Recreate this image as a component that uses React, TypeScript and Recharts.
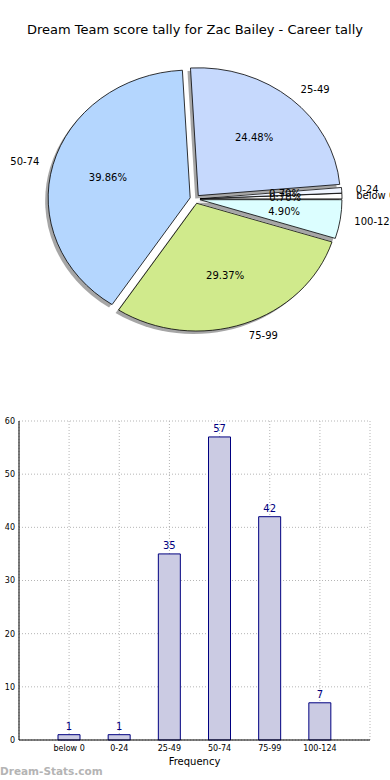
import { PieChart, Pie, Sector, BarChart, Bar, XAxis, YAxis, CartesianGrid, LabelList } from "recharts";

const CATEGORIES = ["below 0", "0-24", "25-49", "50-74", "75-99", "100-124"];
const COUNTS = [1, 1, 35, 57, 42, 7];
const SLICE_COLORS = ["#ffffff", "#eef4ff", "#c6d9fd", "#b4d6fe", "#d0ea8c", "#dcfeff"];
const Y_TICKS = [0, 10, 20, 30, 40, 50, 60];

const pieData = CATEGORIES.map((name, i) => ({ name, value: COUNTS[i] }));
const barData = CATEGORIES.map((name, i) => ({ name, value: COUNTS[i] }));

// matplotlib pie is drawn squashed (axis not equal), so y gets scaled
const SQUASH = 0.9;
const EXPLODE = 5;
const RAD = Math.PI / 180;
const FONT = "'DejaVu Sans', sans-serif";

function slicePos(props: any) {
  const { cx, cy, midAngle } = props;
  const ux = Math.cos(-midAngle * RAD);
  const uy = Math.sin(-midAngle * RAD);
  return { ux, uy, ox: cx + EXPLODE * ux, oy: cy + EXPLODE * uy };
}

function squashTf(cy: number) {
  return `translate(0 ${cy}) scale(1 ${SQUASH}) translate(0 ${-cy})`;
}

function SliceShadow(props: any) {
  const { cy, outerRadius, startAngle, endAngle } = props;
  const { ox, oy } = slicePos(props);
  return (
    <g transform={squashTf(cy)}>
      <Sector
        cx={ox - 3}
        cy={oy + 3 / SQUASH}
        innerRadius={0}
        outerRadius={outerRadius}
        startAngle={startAngle}
        endAngle={endAngle}
        fill="#808080"
        fillOpacity={0.7}
        stroke="none"
      />
    </g>
  );
}

function SliceBody(props: any) {
  const { cy, outerRadius, startAngle, endAngle, index } = props;
  const { ox, oy } = slicePos(props);
  return (
    <g transform={squashTf(cy)}>
      <Sector
        cx={ox}
        cy={oy}
        innerRadius={0}
        outerRadius={outerRadius}
        startAngle={startAngle}
        endAngle={endAngle}
        fill={SLICE_COLORS[index]}
        stroke="#000"
        strokeWidth={0.8}
        vectorEffect="non-scaling-stroke"
      />
    </g>
  );
}

function SliceText(props: any) {
  const { cy, outerRadius, percent, name } = props;
  const { ux, uy, ox, oy } = slicePos(props);
  const toY = (y: number) => cy + (y - cy) * SQUASH;
  const px = ox + 0.6 * outerRadius * ux;
  const py = toY(oy + 0.6 * outerRadius * uy);
  const lx = ox + 1.1 * outerRadius * ux;
  const ly = toY(oy + 1.1 * outerRadius * uy);
  return (
    <g fontFamily={FONT} fontSize={10} fill="#000">
      <text x={px} y={py} textAnchor="middle" dominantBaseline="central">
        {(percent * 100).toFixed(2)}%
      </text>
      <text x={lx} y={ly} textAnchor={ux > 0 ? "start" : "end"} dominantBaseline="central">
        {name}
      </text>
    </g>
  );
}

const pieCommon = {
  data: pieData,
  dataKey: "value",
  nameKey: "name",
  cx: 195,
  cy: 199,
  outerRadius: 142,
  startAngle: 0,
  endAngle: 360,
  fill: "none",
  stroke: "none",
  labelLine: false,
  isAnimationActive: false,
};

export default function App() {
  return (
    <div
      style={{
        position: "absolute",
        left: 0,
        top: 0,
        width: 390,
        height: 780,
        overflow: "hidden",
        background: "#fff",
        fontFamily: FONT,
      }}
    >
      <div
        style={{
          position: "absolute",
          top: 22,
          left: 0,
          width: 390,
          textAlign: "center",
          fontSize: 13,
          lineHeight: "16px",
          color: "#000",
        }}
      >
        Dream Team score tally for Zac Bailey - Career tally
      </div>

      <div style={{ position: "absolute", top: 0, left: 0 }}>
        <PieChart width={390} height={380} margin={{ top: 0, right: 0, bottom: 0, left: 0 }}>
          <Pie {...pieCommon} label={SliceShadow} />
          <Pie {...pieCommon} label={SliceBody} />
          <Pie {...pieCommon} label={SliceText} />
        </PieChart>
      </div>

      <div style={{ position: "absolute", top: 400, left: 0 }}>
        <BarChart width={390} height={370} data={barData} margin={{ top: 21, right: 20, bottom: 0, left: 0 }}>
          <XAxis
            dataKey="name"
            height={30}
            padding={{ left: 25, right: 25 }}
            interval={0}
            tickLine={false}
            tickSize={0}
            tickMargin={5}
            axisLine={{ stroke: "#000" }}
            tick={{ fontSize: 8, fill: "#000", fontFamily: FONT }}
            label={{ value: "Frequency", position: "insideBottom", offset: 5, fontSize: 10, fill: "#000", fontFamily: FONT }}
          />
          <XAxis xAxisId="top" dataKey="name" orientation="top" height={0} tick={false} tickLine={false} axisLine={{ stroke: "#000" }} />
          <YAxis
            domain={[0, 60]}
            ticks={Y_TICKS}
            width={19}
            tickLine={false}
            tickSize={0}
            tickMargin={4}
            axisLine={{ stroke: "#000" }}
            tick={{ fontSize: 8, fill: "#000", fontFamily: FONT }}
          />
          <YAxis yAxisId="right" orientation="right" domain={[0, 60]} width={0} tick={false} tickLine={false} axisLine={{ stroke: "#000" }} />
          <Bar dataKey="value" barSize={22} fill="#cbcbe3" stroke="#000080" strokeWidth={1} isAnimationActive={false}>
            <LabelList dataKey="value" position="top" offset={5} fill="#000080" fontSize={10} fontFamily={FONT} />
          </Bar>
          <CartesianGrid stroke="#b5b5b5" strokeDasharray="1 2" />
        </BarChart>
      </div>

      <div
        style={{
          position: "absolute",
          left: 0,
          top: 764,
          fontSize: 10.5,
          fontWeight: "bold",
          color: "#b4b4b4",
          lineHeight: "14px",
        }}
      >
        Dream-Stats.com
      </div>
    </div>
  );
}
